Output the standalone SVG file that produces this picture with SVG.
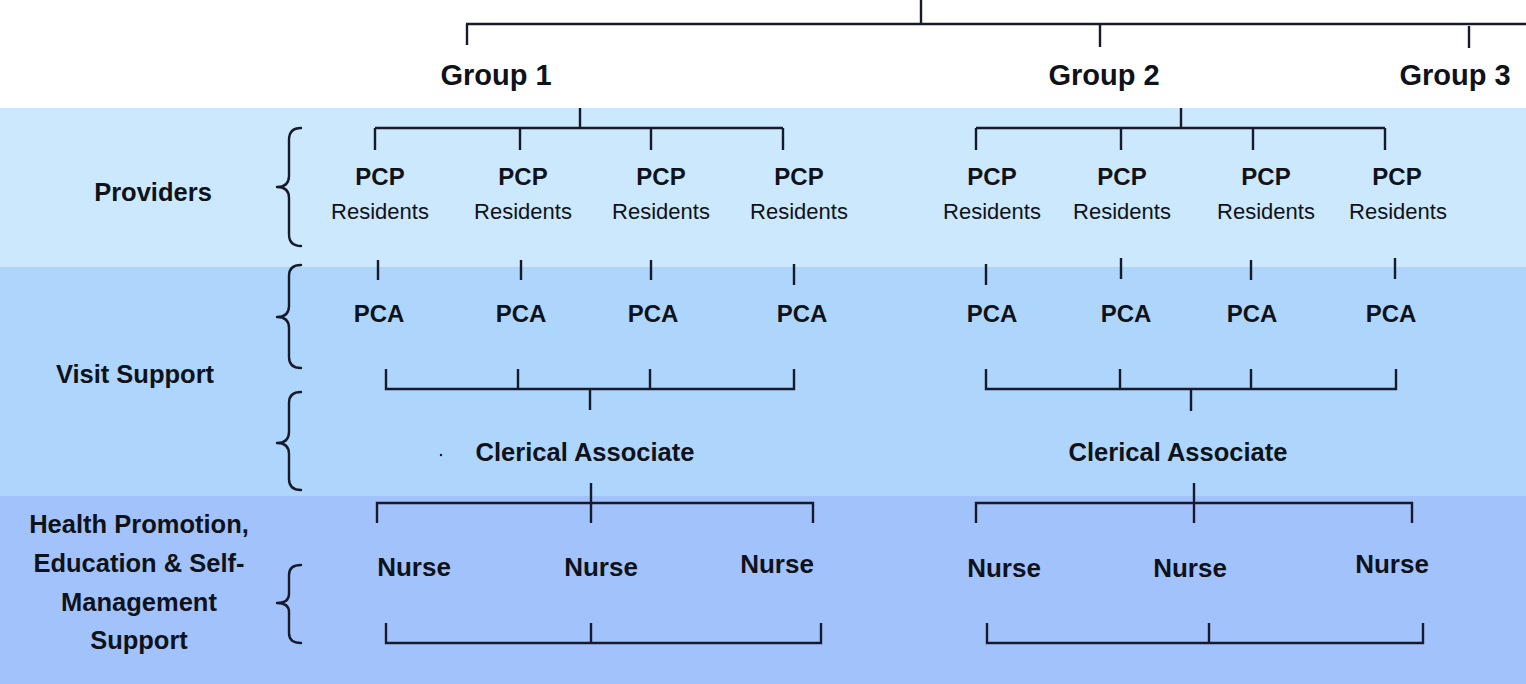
<svg xmlns="http://www.w3.org/2000/svg" width="1526" height="684" viewBox="0 0 1526 684">
<style>
.ln{fill:none;stroke:#161a2a;stroke-width:2.4;stroke-linecap:butt}
.br{fill:none;stroke:#161a2a;stroke-width:2.4;stroke-linecap:round;stroke-linejoin:round}
.t{font-family:"Liberation Sans",Arial,sans-serif;fill:#10121a;text-anchor:middle}
.grp{font-weight:bold;font-size:29px}
.lab{font-weight:bold;font-size:25.5px}
.pc{font-weight:bold;font-size:24px}
.res{font-size:22px}
.nur{font-weight:bold;font-size:26px}
</style>
<rect x="0" y="0" width="1526" height="684" fill="#ffffff"/>
<g id="bands">
<rect x="0" y="108" width="1526" height="160" fill="#cbe8fc"/>
<rect x="0" y="267" width="1526" height="230" fill="#aed5fb"/>
<rect x="0" y="496" width="1526" height="188" fill="#a2c2fb"/>
</g>
<g id="connectors">
<path class="ln" d="M921,0 V24 M466,24 H1526 M467,24 V45 M1100,25 V47 M1469,26 V48"/>
<path class="ln" d="M580,108 V128 M375,128 H783 M375,128 V150 M520,128 V150 M651,128 V150 M783,128 V150"/>
<path class="ln" d="M1181,108 V128 M976,128 H1385 M976,128 V150 M1121,128 V150 M1253,128 V150 M1385,128 V150"/>
<path class="ln" d="M378,260 V280 M521,260 V280 M651,260 V280 M794,264 V285 M986,264 V285 M1121,258 V279 M1251,260 V280 M1395,258 V279"/>
<path class="ln" d="M386,369 V389 H794 V369 M518,369 V389 M650,369 V389 M590,389 V410"/>
<path class="ln" d="M986,369 V389 H1396 V369 M1120,369 V389 M1251,369 V389 M1191,389 V411"/>
<path class="ln" d="M591,483 V523 M377,523 V503 H813 V523"/>
<path class="ln" d="M1194,483 V523 M976,523 V503 H1412 V523"/>
<path class="ln" d="M386,623 V643 H821 V623 M591,623 V643"/>
<path class="ln" d="M987,623 V643 H1423 V623 M1209,623 V643"/>
</g>
<g id="braces">
<path class="br" d="M301,128 Q289,128 289,140 V176 Q289,187 277,187 Q289,187 289,198 V234 Q289,246 301,246"/>
<path class="br" d="M301,265 Q289,265 289,276 V306 Q289,317 277,317 Q289,317 289,328 V357 Q289,368 301,368"/>
<path class="br" d="M301,392 Q289,392 289,403 V432 Q289,443 277,443 Q289,443 289,454 V479 Q289,490 301,490"/>
<path class="br" d="M301,565 Q289,565 289,575 V594 Q289,603 277,603 Q289,603 289,612 V633 Q289,643 301,643"/>
</g>
<g id="group1"><text class="t grp" x="496" y="85">Group 1</text></g>
<g id="group2"><text class="t grp" x="1104" y="85">Group 2</text></g>
<g id="group3"><text class="t grp" x="1455" y="85">Group 3</text></g>
<g id="label-providers"><text class="t lab" x="153" y="201">Providers</text></g>
<g id="label-visit"><text class="t lab" x="135" y="383">Visit Support</text></g>
<g id="label-health"><text class="t lab" x="139" y="533">Health Promotion,</text><text class="t lab" x="139" y="572">Education &amp; Self-</text><text class="t lab" x="139" y="611">Management</text><text class="t lab" x="139" y="649">Support</text></g>
<g id="pcp1"><text class="t pc" x="380" y="185">PCP</text><text class="t res" x="380" y="219">Residents</text></g>
<g id="pcp2"><text class="t pc" x="523" y="185">PCP</text><text class="t res" x="523" y="219">Residents</text></g>
<g id="pcp3"><text class="t pc" x="661" y="185">PCP</text><text class="t res" x="661" y="219">Residents</text></g>
<g id="pcp4"><text class="t pc" x="799" y="185">PCP</text><text class="t res" x="799" y="219">Residents</text></g>
<g id="pcp5"><text class="t pc" x="992" y="185">PCP</text><text class="t res" x="992" y="219">Residents</text></g>
<g id="pcp6"><text class="t pc" x="1122" y="185">PCP</text><text class="t res" x="1122" y="219">Residents</text></g>
<g id="pcp7"><text class="t pc" x="1266" y="185">PCP</text><text class="t res" x="1266" y="219">Residents</text></g>
<g id="pcp8"><text class="t pc" x="1397" y="185">PCP</text><text class="t res" x="1398" y="219">Residents</text></g>
<g id="pca1"><text class="t pc" x="379" y="322">PCA</text></g>
<g id="pca2"><text class="t pc" x="521" y="322">PCA</text></g>
<g id="pca3"><text class="t pc" x="653" y="322">PCA</text></g>
<g id="pca4"><text class="t pc" x="802" y="322">PCA</text></g>
<g id="pca5"><text class="t pc" x="992" y="322">PCA</text></g>
<g id="pca6"><text class="t pc" x="1126" y="322">PCA</text></g>
<g id="pca7"><text class="t pc" x="1252" y="322">PCA</text></g>
<g id="pca8"><text class="t pc" x="1391" y="322">PCA</text></g>
<g id="clerical1"><text class="t lab" x="585" y="461">Clerical Associate</text></g>
<g id="clerical2"><text class="t lab" x="1178" y="461">Clerical Associate</text></g>
<circle cx="441" cy="455" r="1.2" fill="#161a2a"/>
<g id="nurse1"><text class="t nur" x="414" y="576">Nurse</text></g>
<g id="nurse2"><text class="t nur" x="601" y="576">Nurse</text></g>
<g id="nurse3"><text class="t nur" x="777" y="573">Nurse</text></g>
<g id="nurse4"><text class="t nur" x="1004" y="577">Nurse</text></g>
<g id="nurse5"><text class="t nur" x="1190" y="577">Nurse</text></g>
<g id="nurse6"><text class="t nur" x="1392" y="573">Nurse</text></g>
</svg>
